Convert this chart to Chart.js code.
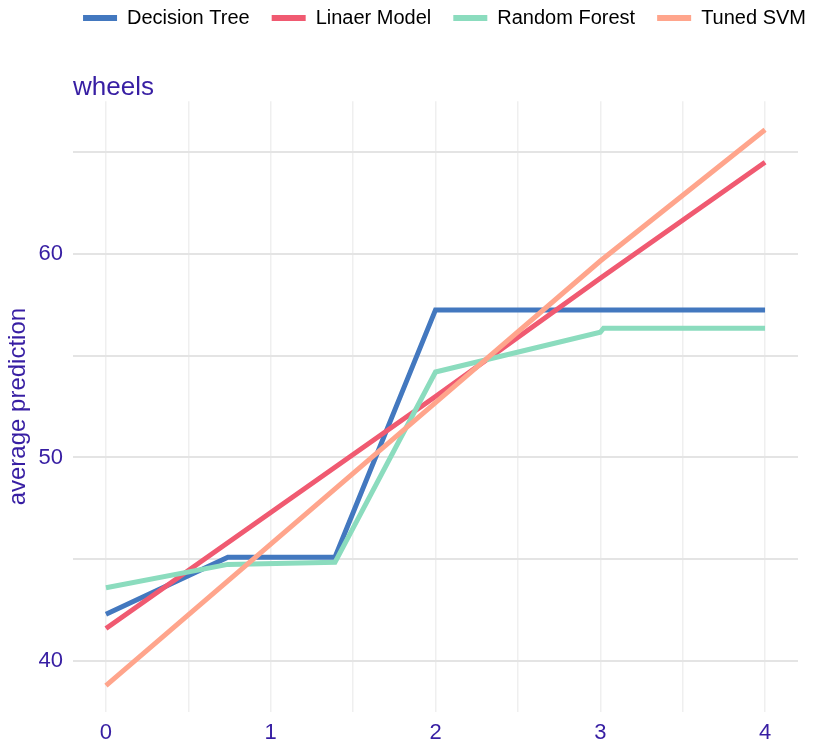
<!DOCTYPE html>
<html>
<head>
<meta charset="utf-8">
<script src="https://cdn.jsdelivr.net/npm/chart.js@4/dist/chart.umd.min.js"></script>
<style>
  html, body { margin: 0; padding: 0; background: #fff; }
  #wrap { width: 813px; height: 747px; }
</style>
</head>
<body>
<div id="wrap"><canvas id="grafico"></canvas></div>
<script>
// valores (wheels)
const arvoreX = [0, 0.74, 1.39, 2, 3, 4];
const arvoreY = [42.3, 45.1, 45.1, 57.25, 57.25, 57.25];

const linearX = [0, 1, 2, 3, 4];
const linearY = [41.6, 47.3, 53.0, 58.8, 64.5];

const florestaX = [0, 0.74, 1.39, 2, 3, 3.02, 4];
const florestaY = [43.6, 44.75, 44.85, 54.2, 56.15, 56.35, 56.35];

const svmX = [0, 1, 2, 3, 4];
const svmY = [38.8, 45.75, 52.7, 59.65, 66.1];

const nomes = ["Decision Tree", "Linaer Model", "Random Forest", "Tuned SVM"];
const cores = ["#4378bf", "#f05a71", "#8bdcbe", "#ffa58c"];

const roxo = "#371ea3";
const fonte = "'Liberation Sans', Arial, sans-serif";

function pontos(xs, ys) {
	return xs.map((x, i) => ({ x: x, y: ys[i] }));
}

const series = [
	pontos(arvoreX, arvoreY),
	pontos(linearX, linearY),
	pontos(florestaX, florestaY),
	pontos(svmX, svmY)
];

let datasetsAux = series.map((d, i) => ({
	label: nomes[i],
	data: d,
	borderColor: cores[i],
	backgroundColor: cores[i],
	borderWidth: 5,
	pointRadius: 0,
	tension: 0,
	order: 4 - i
}));

// empurra a legenda para o canto de cima à direita, como no original
const moveLegenda = {
	id: 'moveLegenda',
	afterLayout(chart) {
		const lg = chart.legend;
		lg.left += 30;
		lg.right += 30;
		lg.top -= 14;
		lg.bottom -= 14;
	}
};

let linhas = document.getElementById("grafico");
var myChart = new Chart(linhas, {
	type: 'line',
	data: { datasets: datasetsAux },
	plugins: [moveLegenda],
	options: {
		responsive: true,
		maintainAspectRatio: false,
		animation: false,
		layout: { padding: { left: 0, right: 15, top: 0, bottom: 0 } },
		plugins: {
			legend: {
				display: true,
				position: 'top',
				align: 'end',
				weight: 3000,
				labels: {
					boxWidth: 34,
					boxHeight: 6,
					padding: 22,
					color: '#000',
					font: { family: fonte, size: 20 },
					sort: (a, b) => a.datasetIndex - b.datasetIndex,
					generateLabels: (chart) => {
						const itens = Chart.defaults.plugins.legend.labels.generateLabels(chart);
						itens.forEach(it => { it.lineWidth = 0; });
						return itens;
					}
				}
			},
			title: {
				display: true,
				text: "wheels",
				align: 'start',
				fullSize: false,
				color: roxo,
				font: { family: fonte, size: 26, weight: 'normal' },
				padding: { top: 20, bottom: -2 }
			},
			tooltip: { enabled: false }
		},
		scales: {
			x: {
				type: 'linear',
				min: -0.2,
				max: 4.2,
				border: { display: false },
				grid: { color: '#efefef', lineWidth: 1.5, drawTicks: false },
				afterBuildTicks: (s) => {
					const t = [];
					for (let v = 0; v <= 4; v += 0.5) t.push({ value: v });
					s.ticks = t;
				},
				ticks: {
					color: roxo,
					font: { family: fonte, size: 22 },
					padding: 8,
					autoSkip: false,
					maxRotation: 0,
					callback: (v) => Number.isInteger(v) ? v : ''
				},
				afterFit: (s) => { s.height = 35; }
			},
			y: {
				min: 37.5,
				max: 67.5,
				border: { display: false },
				grid: { color: '#e4e4e4', lineWidth: 2, drawTicks: false },
				afterBuildTicks: (s) => {
					const t = [];
					for (let v = 40; v <= 65; v += 5) t.push({ value: v });
					s.ticks = t;
				},
				ticks: {
					color: roxo,
					font: { family: fonte, size: 22 },
					padding: 10,
					autoSkip: false,
					callback: (v) => v % 10 === 0 ? v : ''
				},
				title: {
					display: true,
					text: "average prediction",
					color: roxo,
					font: { family: fonte, size: 24 },
					padding: { top: 4, bottom: 0 }
				},
				afterFit: (s) => { s.width = 73; }
			}
		}
	}
});
</script>
</body>
</html>
